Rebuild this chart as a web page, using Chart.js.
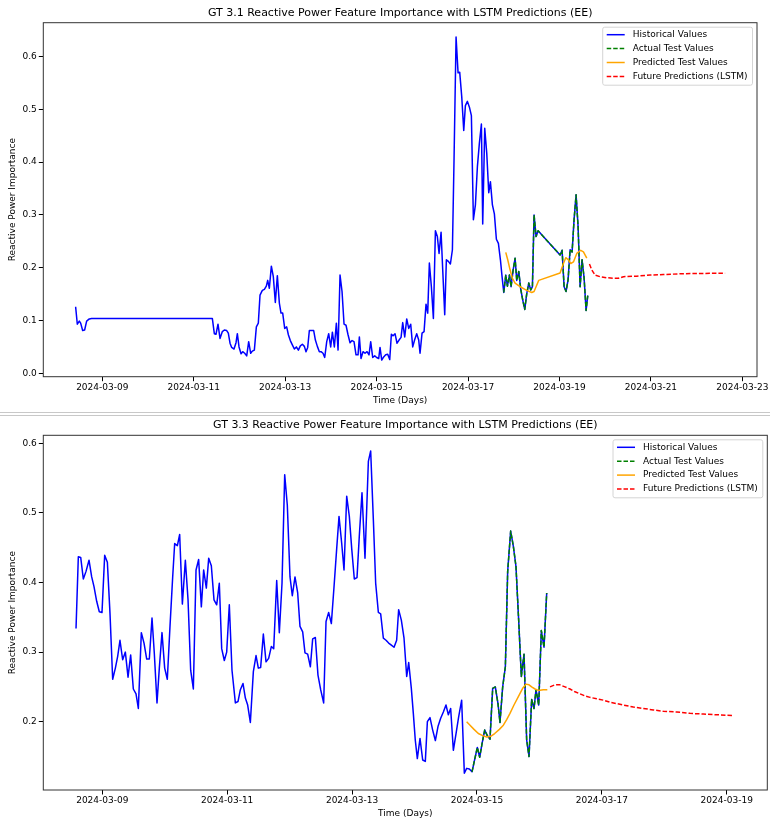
<!DOCTYPE html>
<html>
<head>
<meta charset="utf-8">
<script src="https://cdn.jsdelivr.net/npm/chart.js@4.4.1/dist/chart.umd.min.js"></script>
<style>
  body { margin: 0; background: #fff; width: 770px; height: 820px; position: relative; overflow: hidden; }
  canvas { position: absolute; left: 0; }
  #gt31 { top: 0; }
  #gt33 { top: 413px; }
  .sep { position: absolute; left: 0; width: 770px; height: 1px; background: #c8c8c8; }
</style>
</head>
<body>
<canvas id="gt31" width="770" height="411"></canvas>
<canvas id="gt33" width="770" height="407"></canvas>
<div class="sep" style="top:412px"></div>
<div class="sep" style="top:415px"></div>
<script>
// x values are day-of-month in March 2024 (fractional = time of day)

/* GT 3.1 */
var gt31HistDays = [
  8.417,8.454,8.498,8.527,8.571,8.614,8.658,8.716,8.767,11.407,
  11.451,11.487,11.531,11.575,11.626,11.670,11.721,11.757,11.794,11.830,
  11.881,11.925,11.954,11.991,12.035,12.071,12.115,12.159,12.202,12.246,
  12.282,12.326,12.370,12.413,12.450,12.501,12.545,12.588,12.618,12.654,
  12.698,12.741,12.785,12.829,12.873,12.909,12.946,12.990,13.033,13.070,
  13.113,13.157,13.201,13.245,13.289,13.332,13.376,13.420,13.456,13.493,
  13.529,13.580,13.624,13.661,13.704,13.748,13.785,13.828,13.865,13.909,
  13.952,13.996,14.033,14.076,14.120,14.157,14.200,14.244,14.288,14.331,
  14.375,14.419,14.463,14.506,14.550,14.594,14.623,14.659,14.703,14.747,
  14.791,14.834,14.871,14.915,14.959,15.002,15.046,15.075,15.112,15.155,
  15.199,15.243,15.287,15.323,15.360,15.403,15.447,15.491,15.535,15.571,
  15.615,15.659,15.702,15.746,15.790,15.834,15.877,15.921,15.950,15.994,
  16.038,16.081,16.118,16.154,16.198,16.242,16.286,16.329,16.366,16.410,
  16.446,16.490,16.526,16.570,16.614,16.658,16.694,16.738,16.782,16.818,
  16.862,16.906,16.942,16.986,17.030,17.073,17.117,17.161,17.205,17.248,
  17.292,17.321,17.365,17.409,17.453,17.489,17.533,17.576,17.620,17.664,
  17.708,17.744,17.781,17.825,17.861,17.905,17.941,17.985,18.029,18.065,
  18.109,18.153,18.196,18.240,18.284,18.328,18.371,18.408,18.444,18.488,
  18.532,19.013,19.057,19.101,19.144,19.188,19.232,19.276,19.319,19.363,
  19.407,19.451,19.494,19.538,19.582,19.618
];
var gt31HistValues = [
  0.126,0.093,0.099,0.095,0.081,0.082,0.099,0.103,0.104,0.104,
  0.075,0.074,0.093,0.066,0.079,0.082,0.081,0.076,0.057,0.049,
  0.046,0.058,0.075,0.050,0.037,0.041,0.038,0.033,0.060,0.038,
  0.042,0.044,0.088,0.095,0.148,0.157,0.159,0.165,0.176,0.161,
  0.203,0.183,0.134,0.185,0.133,0.114,0.114,0.085,0.088,0.073,
  0.062,0.054,0.046,0.050,0.044,0.052,0.055,0.051,0.041,0.049,
  0.081,0.081,0.081,0.063,0.051,0.041,0.041,0.038,0.030,0.060,
  0.075,0.050,0.078,0.050,0.095,0.044,0.186,0.155,0.093,0.091,
  0.073,0.058,0.062,0.060,0.035,0.035,0.069,0.028,0.041,0.038,
  0.041,0.035,0.060,0.030,0.033,0.030,0.028,0.049,0.025,0.031,
  0.035,0.036,0.026,0.074,0.071,0.075,0.057,0.063,0.068,0.096,
  0.069,0.103,0.085,0.093,0.050,0.064,0.075,0.063,0.038,0.076,
  0.079,0.131,0.114,0.209,0.164,0.104,0.270,0.259,0.227,0.267,
  0.196,0.111,0.215,0.212,0.207,0.234,0.407,0.637,0.569,0.570,
  0.524,0.460,0.507,0.515,0.504,0.488,0.291,0.319,0.392,0.436,
  0.472,0.283,0.464,0.417,0.342,0.363,0.319,0.302,0.254,0.246,
  0.215,0.183,0.153,0.186,0.165,0.186,0.164,0.195,0.218,0.176,
  0.193,0.159,0.139,0.121,0.151,0.171,0.158,0.164,0.300,0.259,
  0.270,0.224,0.233,0.164,0.155,0.177,0.234,0.230,0.291,0.338,
  0.278,0.164,0.215,0.181,0.119,0.147
];
var gt31PredDays = [17.825,17.868,17.919,17.970,18.029,18.138,18.284,18.393,18.444,18.488,18.546,
  19.013,19.086,19.137,19.195,19.247,19.305,19.378,19.465,19.524,19.597];
var gt31PredValues = [0.229,0.215,0.196,0.180,0.171,0.164,0.157,0.153,0.155,0.164,0.176,
  0.190,0.208,0.219,0.215,0.208,0.211,0.227,0.233,0.230,0.218];
var gt31FutureDays = [19.655,19.706,19.779,19.888,20.034,20.180,20.289,20.399,20.690,20.982,21.274,21.638,22.003,22.368,22.622];
var gt31FutureValues = [0.207,0.196,0.186,0.183,0.181,0.180,0.180,0.183,0.184,0.186,0.187,0.1885,0.189,0.1895,0.1895];
var gt31TestStart = 17.78;
var gt31XTickLabels = ['2024-03-09','2024-03-11','2024-03-13','2024-03-15','2024-03-17','2024-03-19','2024-03-21','2024-03-23'];
var gt31YTicks = [0.0, 0.1, 0.2, 0.3, 0.4, 0.5, 0.6];

/* GT 3.3 */
var gt33HistDays = [
  8.579,8.616,8.654,8.696,8.739,8.787,8.830,8.867,8.910,8.952,
  8.995,9.038,9.081,9.123,9.166,9.209,9.246,9.283,9.326,9.369,
  9.412,9.454,9.497,9.540,9.577,9.625,9.668,9.711,9.753,9.796,
  9.833,9.876,9.913,9.956,9.999,10.041,10.084,10.127,10.159,10.202,
  10.239,10.282,10.330,10.373,10.415,10.458,10.501,10.543,10.586,10.623,
  10.666,10.704,10.746,10.789,10.832,10.874,10.912,10.954,10.992,11.034,
  11.077,11.131,11.173,11.211,11.253,11.291,11.328,11.371,11.419,11.462,
  11.499,11.536,11.579,11.622,11.664,11.707,11.745,11.793,11.835,11.878,
  11.921,11.963,12.006,12.043,12.086,12.129,12.166,12.209,12.246,12.289,
  12.332,12.369,12.412,12.454,12.497,12.545,12.583,12.625,12.668,12.711,
  12.754,12.791,12.834,12.871,12.914,12.956,12.994,13.036,13.079,13.116,
  13.159,13.207,13.261,13.298,13.341,13.378,13.421,13.458,13.501,13.544,
  13.586,13.629,13.672,13.714,13.746,13.789,13.832,13.875,13.907,13.949,
  13.981,14.013,14.045,14.088,14.131,14.173,14.206,14.248,14.291,14.334,
  14.376,14.419,14.462,14.504,14.542,14.579,14.622,14.665,14.707,14.755,
  14.798,14.835,14.878,14.921,14.964,15.006,15.044,15.081,15.124,15.166,
  15.209,15.252,15.294,15.337,15.369,15.412,15.455,15.492,15.540,15.583,
  15.625,15.668,15.711,15.754,15.796,15.834,15.876,15.914,15.946,15.989,
  16.031,16.074,16.117
];
var gt33HistValues = [
  0.334,0.437,0.436,0.405,0.416,0.432,0.408,0.394,0.373,0.358,
  0.357,0.439,0.429,0.356,0.261,0.277,0.294,0.317,0.289,0.300,
  0.264,0.296,0.247,0.240,0.219,0.328,0.313,0.290,0.290,0.349,
  0.298,0.227,0.277,0.328,0.277,0.261,0.337,0.408,0.456,0.453,
  0.469,0.369,0.432,0.375,0.274,0.247,0.418,0.433,0.365,0.418,
  0.392,0.435,0.424,0.375,0.368,0.399,0.305,0.288,0.300,0.368,
  0.274,0.227,0.229,0.246,0.255,0.234,0.224,0.199,0.272,0.295,
  0.277,0.278,0.326,0.286,0.291,0.308,0.305,0.403,0.328,0.399,
  0.555,0.511,0.408,0.381,0.408,0.385,0.337,0.329,0.299,0.297,
  0.279,0.319,0.321,0.267,0.246,0.227,0.344,0.357,0.341,0.394,
  0.449,0.495,0.456,0.418,0.524,0.495,0.449,0.405,0.407,0.467,
  0.529,0.435,0.574,0.589,0.490,0.399,0.357,0.355,0.320,0.317,
  0.313,0.310,0.307,0.317,0.361,0.346,0.320,0.265,0.285,0.248,
  0.212,0.173,0.147,0.176,0.145,0.143,0.200,0.206,0.188,0.173,
  0.193,0.205,0.214,0.224,0.210,0.219,0.159,0.183,0.207,0.231,
  0.126,0.133,0.132,0.128,0.146,0.163,0.149,0.168,0.188,0.180,
  0.175,0.248,0.250,0.226,0.199,0.250,0.279,0.416,0.474,0.452,
  0.423,0.346,0.265,0.297,0.174,0.150,0.232,0.219,0.246,0.224,
  0.331,0.307,0.385
];
var gt33PredDays = [14.835,14.889,14.953,15.022,15.092,15.156,15.220,15.284,15.359,15.423,15.476,
  15.529,15.593,15.663,15.732,15.786,15.834,15.876,15.930,15.983,16.063,16.127];
var gt33PredValues = [0.200,0.195,0.189,0.183,0.180,0.178,0.179,0.183,0.189,0.195,0.203,
  0.212,0.224,0.236,0.248,0.254,0.253,0.250,0.247,0.245,0.246,0.246];
var gt33FutureDays = [16.170,16.250,16.330,16.410,16.490,16.571,16.651,16.731,16.811,16.917,17.024,17.131,
  17.238,17.344,17.505,17.665,17.825,17.985,18.199,18.412,18.625,18.839,19.106];
var gt33FutureValues = [0.250,0.253,0.253,0.250,0.247,0.243,0.240,0.237,0.235,0.233,0.231,0.228,
  0.226,0.224,0.221,0.219,0.217,0.215,0.214,0.212,0.211,0.210,0.209];
var gt33TestStart = 14.9;
var gt33XTickLabels = ['2024-03-09','2024-03-11','2024-03-13','2024-03-15','2024-03-17','2024-03-19'];
var gt33YTicks = [0.2, 0.3, 0.4, 0.5, 0.6];

Chart.defaults.font.family = '"DejaVu Sans", sans-serif';
Chart.defaults.color = '#000';

function pts(xs, ys) {
  return xs.map(function (x, i) { return { x: x, y: ys[i] }; });
}

// matplotlib-style legend box inside the axes, upper right
var boxLegend = {
  id: 'boxLegend',
  afterDraw: function (chart) {
    var ctx = chart.ctx, a = chart.chartArea, sets = chart.data.datasets;
    ctx.save();
    ctx.font = '9px "DejaVu Sans"';
    var tw = 0;
    sets.forEach(function (d) { tw = Math.max(tw, ctx.measureText(d.label).width); });
    var w = tw + 35, h = 58, x = a.right - w - 4.5, y = a.top + 4.5;
    ctx.fillStyle = 'rgba(255,255,255,0.85)';
    ctx.strokeStyle = '#d4d4d4';
    ctx.lineWidth = 1;
    ctx.beginPath();
    ctx.roundRect(x, y, w, h, 2);
    ctx.fill();
    ctx.stroke();
    sets.forEach(function (d, i) {
      var cy = y + 7.5 + i * 13.9;
      ctx.strokeStyle = d.borderColor;
      ctx.lineWidth = 1.5;
      ctx.setLineDash(d.borderDash || []);
      ctx.beginPath();
      ctx.moveTo(x + 4, cy);
      ctx.lineTo(x + 22, cy);
      ctx.stroke();
      ctx.setLineDash([]);
      ctx.fillStyle = '#000';
      ctx.textBaseline = 'middle';
      ctx.fillText(d.label, x + 30, cy);
    });
    ctx.restore();
  }
};

// full box around the axes
var frame = {
  id: 'frame',
  afterDatasetsDraw: function (chart) {
    var a = chart.chartArea, ctx = chart.ctx;
    ctx.save();
    ctx.strokeStyle = '#333';
    ctx.lineWidth = 1;
    ctx.strokeRect(a.left, a.top, a.right - a.left, a.bottom - a.top);
    ctx.restore();
  }
};

function makeChart(id, c) {
  var hist = pts(c.histDays, c.histValues);
  var actual = hist.filter(function (p) { return p.x >= c.testStart; });
  var line = { borderWidth: 1.5, pointRadius: 0, tension: 0, fill: false, borderJoinStyle: 'round' };
  var tickGrid = { drawOnChartArea: false, drawTicks: true, tickLength: 4.5, tickColor: '#000', tickWidth: 1 };

  return new Chart(document.getElementById(id), {
    type: 'line',
    data: {
      datasets: [
        Object.assign({ label: 'Historical Values', data: hist, borderColor: '#0000ff', order: 4 }, line),
        Object.assign({ label: 'Actual Test Values', data: actual, borderColor: '#008000', borderDash: [4.5, 2], order: 3 }, line),
        Object.assign({ label: 'Predicted Test Values', data: pts(c.predDays, c.predValues), borderColor: '#ffa500', order: 2 }, line),
        Object.assign({ label: 'Future Predictions (LSTM)', data: pts(c.futureDays, c.futureValues), borderColor: '#ff0000', borderDash: [4.5, 2], order: 1 }, line)
      ]
    },
    options: {
      responsive: false,
      animation: false,
      devicePixelRatio: 1,
      layout: { padding: { left: 0, right: c.padRight, top: 0, bottom: 0 } },
      plugins: {
        legend: { display: false },
        tooltip: { enabled: false },
        title: {
          display: true,
          fullSize: false,
          text: c.title,
          color: '#000',
          font: { size: 11, weight: 'normal' },
          padding: { top: c.titleTop, bottom: c.titleBottom }
        }
      },
      scales: {
        x: {
          type: 'linear',
          min: c.xMin,
          max: c.xMax,
          afterBuildTicks: function (s) {
            s.ticks = c.xTickLabels.map(function (t) { return { value: Number(t.slice(8)) }; });
          },
          afterFit: function (s) { s.height = c.xAxisH; s.paddingLeft = 0; s.paddingRight = 0; },
          ticks: {
            autoSkip: false,
            maxRotation: 0,
            padding: 1,
            color: '#000',
            font: { size: 9 },
            callback: function (v, i) { return c.xTickLabels[i]; }
          },
          grid: tickGrid,
          border: { display: false },
          title: { display: true, text: 'Time (Days)', color: '#000', font: { size: 9 }, padding: { top: 0, bottom: c.xTitleBottom } }
        },
        y: {
          min: c.yMin,
          max: c.yMax,
          afterBuildTicks: function (s) {
            s.ticks = c.yTicks.map(function (v) { return { value: v }; });
          },
          afterFit: function (s) { s.width = 43.3; s.paddingTop = 0; s.paddingBottom = 0; },
          ticks: {
            padding: 2,
            color: '#000',
            font: { size: 9 },
            callback: function (v) { return v.toFixed(1); }
          },
          grid: tickGrid,
          border: { display: false },
          title: { display: true, text: 'Reactive Power Importance', color: '#000', font: { size: 9 }, padding: { top: 7.3, bottom: 0 } }
        }
      }
    },
    plugins: [frame, boxLegend]
  });
}

makeChart('gt31', {
  title: 'GT 3.1 Reactive Power Feature Importance with LSTM Predictions (EE)',
  histDays: gt31HistDays, histValues: gt31HistValues, testStart: gt31TestStart,
  predDays: gt31PredDays, predValues: gt31PredValues,
  futureDays: gt31FutureDays, futureValues: gt31FutureValues,
  xTickLabels: gt31XTickLabels, yTicks: gt31YTicks,
  xMin: 7.71, xMax: 23.32, yMin: -0.0064, yMax: 0.664,
  padRight: 13, titleTop: 6.7, titleBottom: 2.8, xAxisH: 34.3, xTitleBottom: 5.3
});

makeChart('gt33', {
  title: 'GT 3.3 Reactive Power Feature Importance with LSTM Predictions (EE)',
  histDays: gt33HistDays, histValues: gt33HistValues, testStart: gt33TestStart,
  predDays: gt33PredDays, predValues: gt33PredValues,
  futureDays: gt33FutureDays, futureValues: gt33FutureValues,
  xTickLabels: gt33XTickLabels, yTicks: gt33YTicks,
  xMin: 8.055, xMax: 19.65, yMin: 0.1019, yMax: 0.6115,
  padRight: 2.7, titleTop: 5.7, titleBottom: 3.4, xAxisH: 30, xTitleBottom: 1.3
});
</script>
</body>
</html>
